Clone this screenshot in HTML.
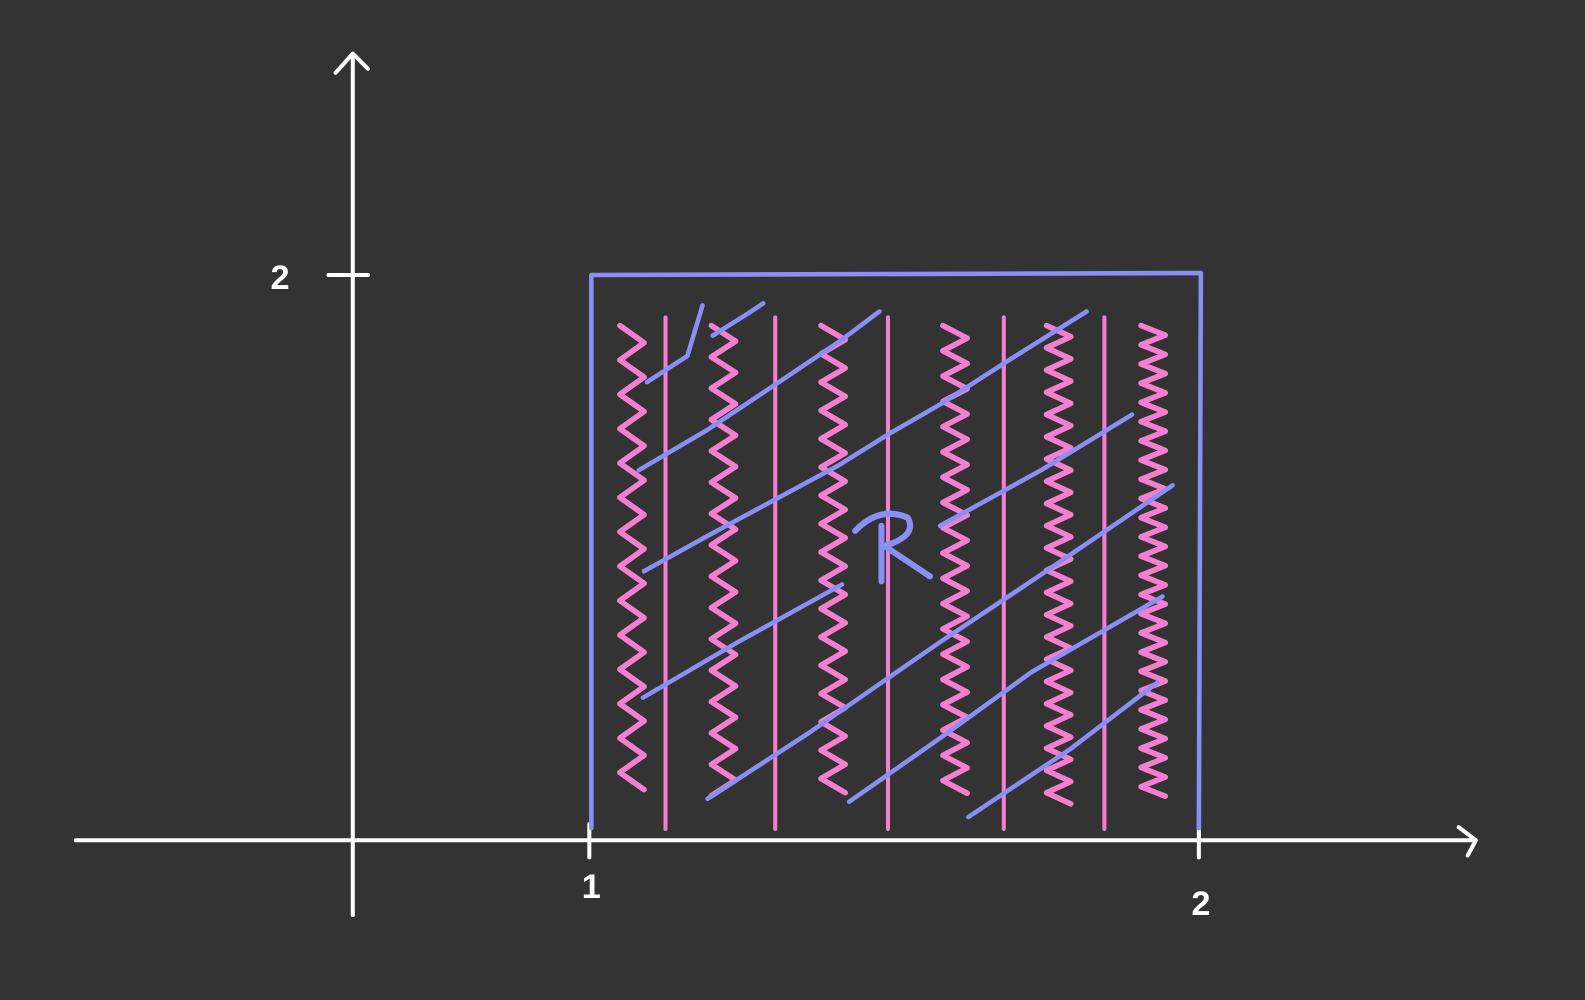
<!DOCTYPE html>
<html><head><meta charset="utf-8"><style>
html,body{margin:0;padding:0;background:#333333;}
svg{display:block;}
text{font-family:"Liberation Sans",sans-serif;fill:#fff;}
</style></head><body>
<svg id="chart" width="1585" height="1000" viewBox="0 0 1568 989" preserveAspectRatio="none">
<rect width="1568" height="989" fill="#333333"/>
<g id="axes"></g>
<g id="fill"></g>
<g id="region"></g>
</svg>
<script>
const xTicks = [1, 2];
const yTicks = [2];
const regionX = [1, 2];
const regionY = [0, 2];
const pinkLinesX = [1.125, 1.305, 1.49, 1.68, 1.845];
const zigCentersX = [1.07, 1.22, 1.4, 1.6, 1.77, 1.925];

function xs(v){ return 583 + (v - 1) * 603; }
function ys(v){ return 831 - v * 279.5; }

const NS = 'http://www.w3.org/2000/svg';
function mk(tag, parent, attrs){
  const e = document.createElementNS(NS, tag);
  for (const k in attrs) e.setAttribute(k, attrs[k]);
  parent.appendChild(e);
  return e;
}
const axes = document.getElementById('axes');
const fill = document.getElementById('fill');
const region = document.getElementById('region');
const W = {stroke:'#fff','stroke-width':4,fill:'none','stroke-linecap':'round','stroke-linejoin':'round'};

let e;
e = mk('line', axes, Object.assign({x1:75,y1:831,x2:1458,y2:831}, W));


e = mk('path', axes, Object.assign({d:'M1443 818 L1460 831 L1452 846'}, W));


e = mk('line', axes, Object.assign({x1:349,y1:905,x2:349,y2:55}, W));


e = mk('path', axes, Object.assign({d:'M332 72 L349 53 L364 68'}, W));



xTicks.forEach((t, i) => {
  const x = xs(t);
  const l = mk('line', axes, Object.assign({x1:x, y1:815, x2:x, y2:848}, W));
  
  
  const tx = mk('text', axes, {x:x+2, y: i === 0 ? 888 : 905, 'font-size':34, 'font-weight':'bold', 'text-anchor':'middle'});
  tx.textContent = t;
  
  
});
yTicks.forEach(t => {
  const y = ys(t);
  const l = mk('line', axes, Object.assign({x1:325, y1:y, x2:364, y2:y}, W));
  
  
  const tx = mk('text', axes, {x:277, y:y+14, 'font-size':34, 'font-weight':'bold', 'text-anchor':'middle'});
  tx.textContent = t;
  
  
});

const P = {stroke:'#f47fd0','stroke-width':4,fill:'none','stroke-linecap':'round','stroke-linejoin':'round'};
pinkLinesX.forEach(v => {
  const x = xs(v);
  const l = mk('line', fill, Object.assign({x1:x, y1:ys(1.85), x2:x, y2:ys(0.04)}, P));
  
  
});
zigCentersX.forEach((v, i) => {
  const cx = xs(v);
  let d = '';
  const top = 322, bot = 795, step = 17 - i * 1.5;
  let k = 0;
  for (let y = top; y <= bot; y += step, k++) {
    const x = cx + (k % 2 ? 12 : -12);
    d += (k ? ' L' : 'M') + x.toFixed(1) + ' ' + y.toFixed(1);
  }
  const p = mk('path', fill, Object.assign({d:d}, P, {'stroke-width':5.5}));
  
  
});

const B = {stroke:'#8a8ff5','stroke-width':4.5,fill:'none','stroke-linecap':'round','stroke-linejoin':'round'};
const diags = [
  'M640 378 L680 352 L695 302',
  'M705 332 L740 310 L755 300',
  'M632 465 L700 425 L760 385 L830 338 L870 308',
  'M637 565 L700 530 L830 460 L878 430 L930 400 L1000 355 L1075 308',
  'M930 520 L1030 465 L1120 410',
  'M636 690 L730 635 L833 578',
  'M700 790 L800 725 L930 635 L1020 575 L1160 480',
  'M840 793 L930 730 L1020 665 L1150 590',
  'M958 808 L1060 740 L1145 675'
];
diags.forEach(d => {
  const l = mk('path', fill, Object.assign({d:d}, B));
  
  
});

const r = mk('path', region, Object.assign({d:`M${xs(regionX[0])+2} ${ys(regionY[0])-12} L${xs(regionX[0])+2} ${ys(regionY[1])} L${xs(regionX[1])+2} ${ys(regionY[1])-2} L${xs(regionX[1])} ${ys(regionY[0])-12}`}, B));


const lbl = mk('path', region, Object.assign({d:'M846 525 Q870 500 898 512 Q908 530 875 540 L920 570 M872 520 L872 575'}, B, {'stroke-width':6}));


</script>
</body></html>
